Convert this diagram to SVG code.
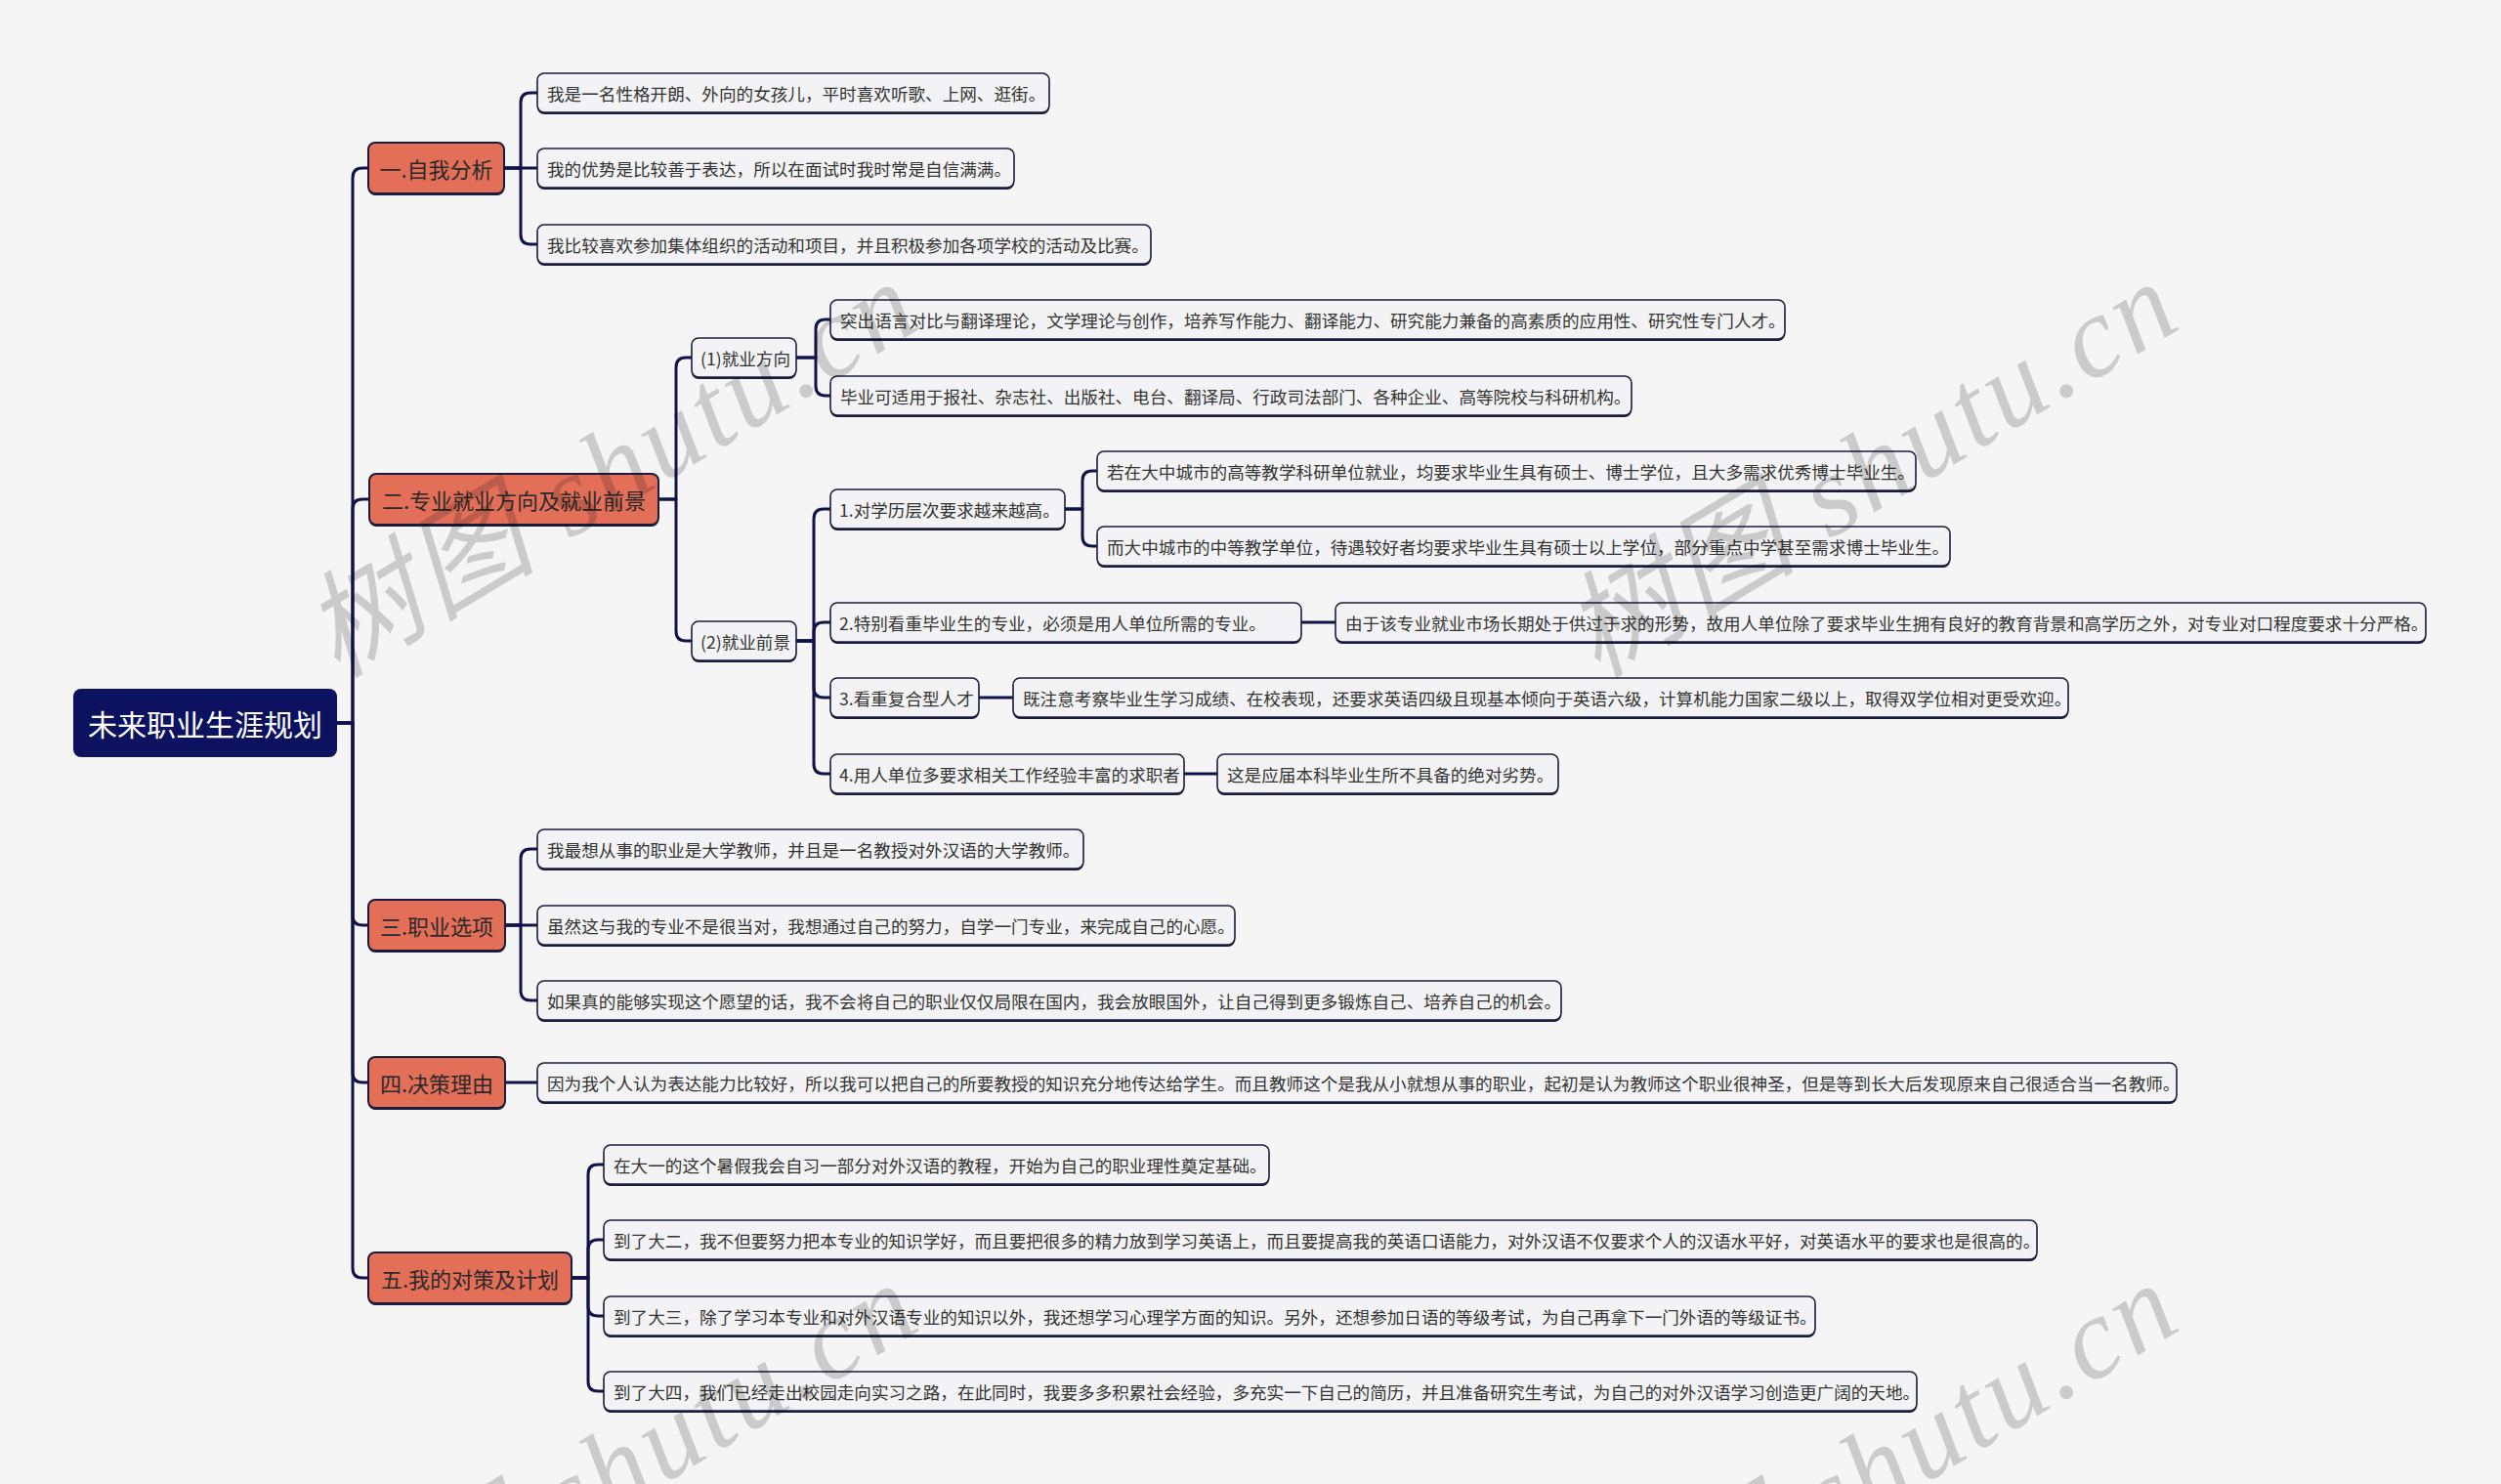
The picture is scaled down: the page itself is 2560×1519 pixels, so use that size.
<svg xmlns="http://www.w3.org/2000/svg" width="2560" height="1519" viewBox="0 0 2560 1519">
<style>
.bg{fill:#f5f5f5}
.rootbox{fill:#0c1160}
.roottxt{fill:#ffffff;font-family:"Noto Sans CJK SC","Noto Sans",sans-serif;font-size:30px;text-anchor:middle;dominant-baseline:central}
.l1 rect.b{fill:#e46f59;stroke:#1b1c3c;stroke-width:2}
.sh{fill:#1b1c3c}
.l1 text{fill:#2a2a2a;font-family:"Noto Sans CJK SC","Noto Sans",sans-serif;font-size:22px;text-anchor:middle;dominant-baseline:central}
.lf rect.b{fill:#f3f3f5;stroke:#1b1c3c;stroke-width:1.6}
.lf text{fill:#333333;font-family:"Noto Sans CJK SC","Noto Sans",sans-serif;font-size:17.6px;dominant-baseline:central}
.cn path{fill:none;stroke:#10134a;stroke-width:3;stroke-linecap:round;stroke-linejoin:round}
.wm{fill:#000000;fill-opacity:0.17;font-family:"Liberation Serif","Noto Sans CJK SC",serif;font-style:italic;font-size:118px}
</style>
<rect class="bg" x="0" y="0" width="2560" height="1519"/>

<g id="connectors" class="cn">
<path d="M345,740 H361 V182 Q361,172 371,172 H377"/>
<path d="M345,740 H361 V521 Q361,511 371,511 H378"/>
<path d="M345,740 H361 V937 Q361,947 371,947 H377"/>
<path d="M345,740 H361 V1098 Q361,1108 371,1108 H377"/>
<path d="M345,740 H361 V1298 Q361,1308 371,1308 H377"/>
<path d="M516,172 H533 V105 Q533,95 543,95 H550"/>
<path d="M516,172 H550"/>
<path d="M516,172 H533 V240 Q533,250 543,250 H550"/>
<path d="M674,511 H692 V376 Q692,366 702,366 H708"/>
<path d="M674,511 H692 V646 Q692,656 702,656 H708"/>
<path d="M815,366 H835 V337 Q835,327 845,327 H850"/>
<path d="M815,366 H835 V395 Q835,405 845,405 H850"/>
<path d="M815,656 H833 V531 Q833,521 843,521 H850"/>
<path d="M815,656 H833 V647 Q833,637 843,637 H850"/>
<path d="M815,656 H833 V704 Q833,714 843,714 H850"/>
<path d="M815,656 H833 V782 Q833,792 843,792 H850"/>
<path d="M1090,521 H1108 V492 Q1108,482 1118,482 H1123"/>
<path d="M1090,521 H1108 V549 Q1108,559 1118,559 H1123"/>
<path d="M1332,637 H1367"/>
<path d="M1002,714 H1037"/>
<path d="M1212,792 H1246"/>
<path d="M517,947 H533 V879 Q533,869 543,869 H550"/>
<path d="M517,947 H550"/>
<path d="M517,947 H533 V1014 Q533,1024 543,1024 H550"/>
<path d="M517,1108 H550"/>
<path d="M585,1308 H602 V1202 Q602,1192 612,1192 H618"/>
<path d="M585,1308 H602 V1279 Q602,1269 612,1269 H618"/>
<path d="M585,1308 H602 V1337 Q602,1347 612,1347 H618"/>
<path d="M585,1308 H602 V1414 Q602,1424 612,1424 H618"/>
</g>

<g id="root">
<rect class="rootbox" x="75" y="705" width="270" height="70" rx="8"/>
<text class="roottxt" x="210" y="740">未来职业生涯规划</text>
</g>

<g id="n1" class="l1"><rect class="sh" x="377" y="148" width="139" height="52" rx="7"/><rect class="b" x="377" y="146" width="139" height="52" rx="7"/><text x="446.5" y="172">一.自我分析</text></g>
<g id="n2" class="l1"><rect class="sh" x="378" y="487" width="296" height="52" rx="7"/><rect class="b" x="378" y="485" width="296" height="52" rx="7"/><text x="526" y="511">二.专业就业方向及就业前景</text></g>
<g id="n3" class="l1"><rect class="sh" x="377" y="923" width="140" height="52" rx="7"/><rect class="b" x="377" y="921" width="140" height="52" rx="7"/><text x="447" y="947">三.职业选项</text></g>
<g id="n4" class="l1"><rect class="sh" x="377" y="1084" width="140" height="52" rx="7"/><rect class="b" x="377" y="1082" width="140" height="52" rx="7"/><text x="447" y="1108">四.决策理由</text></g>
<g id="n5" class="l1"><rect class="sh" x="377" y="1284" width="208" height="52" rx="7"/><rect class="b" x="377" y="1282" width="208" height="52" rx="7"/><text x="481" y="1308">五.我的对策及计划</text></g>

<g id="a1" class="lf"><rect class="sh" x="550" y="77" width="524" height="40" rx="7"/><rect class="b" x="550" y="75" width="524" height="40" rx="7"/><text x="560" y="95">我是一名性格开朗、外向的女孩儿，平时喜欢听歌、上网、逛街。</text></g>
<g id="a2" class="lf"><rect class="sh" x="550" y="154" width="488" height="40" rx="7"/><rect class="b" x="550" y="152" width="488" height="40" rx="7"/><text x="560" y="172">我的优势是比较善于表达，所以在面试时我时常是自信满满。</text></g>
<g id="a3" class="lf"><rect class="sh" x="550" y="232" width="628" height="40" rx="7"/><rect class="b" x="550" y="230" width="628" height="40" rx="7"/><text x="560" y="250">我比较喜欢参加集体组织的活动和项目，并且积极参加各项学校的活动及比赛。</text></g>

<g id="d1" class="lf"><rect class="sh" x="708" y="348" width="107" height="40" rx="7"/><rect class="b" x="708" y="346" width="107" height="40" rx="7"/><text x="717" y="366">(1)就业方向</text></g>
<g id="d2" class="lf"><rect class="sh" x="708" y="638" width="107" height="40" rx="7"/><rect class="b" x="708" y="636" width="107" height="40" rx="7"/><text x="717" y="656">(2)就业前景</text></g>

<g id="e1" class="lf"><rect class="sh" x="850" y="309" width="977" height="40" rx="7"/><rect class="b" x="850" y="307" width="977" height="40" rx="7"/><text x="860" y="327">突出语言对比与翻译理论，文学理论与创作，培养写作能力、翻译能力、研究能力兼备的高素质的应用性、研究性专门人才。</text></g>
<g id="e2" class="lf"><rect class="sh" x="850" y="387" width="820" height="40" rx="7"/><rect class="b" x="850" y="385" width="820" height="40" rx="7"/><text x="860" y="405">毕业可适用于报社、杂志社、出版社、电台、翻译局、行政司法部门、各种企业、高等院校与科研机构。</text></g>

<g id="f1" class="lf"><rect class="sh" x="850" y="503" width="240" height="40" rx="7"/><rect class="b" x="850" y="501" width="240" height="40" rx="7"/><text x="859" y="521">1.对学历层次要求越来越高。</text></g>
<g id="f2" class="lf"><rect class="sh" x="850" y="619" width="482" height="40" rx="7"/><rect class="b" x="850" y="617" width="482" height="40" rx="7"/><text x="859" y="637">2.特别看重毕业生的专业，必须是用人单位所需的专业。</text></g>
<g id="f3" class="lf"><rect class="sh" x="850" y="696" width="152" height="40" rx="7"/><rect class="b" x="850" y="694" width="152" height="40" rx="7"/><text x="859" y="714">3.看重复合型人才</text></g>
<g id="f4" class="lf"><rect class="sh" x="850" y="774" width="362" height="40" rx="7"/><rect class="b" x="850" y="772" width="362" height="40" rx="7"/><text x="859" y="792">4.用人单位多要求相关工作经验丰富的求职者</text></g>

<g id="g1" class="lf"><rect class="sh" x="1123" y="464" width="838" height="40" rx="7"/><rect class="b" x="1123" y="462" width="838" height="40" rx="7"/><text x="1133" y="482">若在大中城市的高等教学科研单位就业，均要求毕业生具有硕士、博士学位，且大多需求优秀博士毕业生。</text></g>
<g id="g2" class="lf"><rect class="sh" x="1123" y="541" width="873" height="40" rx="7"/><rect class="b" x="1123" y="539" width="873" height="40" rx="7"/><text x="1133" y="559">而大中城市的中等教学单位，待遇较好者均要求毕业生具有硕士以上学位，部分重点中学甚至需求博士毕业生。</text></g>
<g id="f2c" class="lf"><rect class="sh" x="1367" y="619" width="1116" height="40" rx="7"/><rect class="b" x="1367" y="617" width="1116" height="40" rx="7"/><text x="1377" y="637">由于该专业就业市场长期处于供过于求的形势，故用人单位除了要求毕业生拥有良好的教育背景和高学历之外，对专业对口程度要求十分严格。</text></g>
<g id="f3c" class="lf"><rect class="sh" x="1037" y="696" width="1080" height="40" rx="7"/><rect class="b" x="1037" y="694" width="1080" height="40" rx="7"/><text x="1047" y="714">既注意考察毕业生学习成绩、在校表现，还要求英语四级且现基本倾向于英语六级，计算机能力国家二级以上，取得双学位相对更受欢迎。</text></g>
<g id="f4c" class="lf"><rect class="sh" x="1246" y="774" width="349" height="40" rx="7"/><rect class="b" x="1246" y="772" width="349" height="40" rx="7"/><text x="1256" y="792">这是应届本科毕业生所不具备的绝对劣势。</text></g>

<g id="h1" class="lf"><rect class="sh" x="550" y="851" width="559" height="40" rx="7"/><rect class="b" x="550" y="849" width="559" height="40" rx="7"/><text x="560" y="869">我最想从事的职业是大学教师，并且是一名教授对外汉语的大学教师。</text></g>
<g id="h2" class="lf"><rect class="sh" x="550" y="929" width="714" height="40" rx="7"/><rect class="b" x="550" y="927" width="714" height="40" rx="7"/><text x="560" y="947">虽然这与我的专业不是很当对，我想通过自己的努力，自学一门专业，来完成自己的心愿。</text></g>
<g id="h3" class="lf"><rect class="sh" x="550" y="1006" width="1048" height="40" rx="7"/><rect class="b" x="550" y="1004" width="1048" height="40" rx="7"/><text x="560" y="1024">如果真的能够实现这个愿望的话，我不会将自己的职业仅仅局限在国内，我会放眼国外，让自己得到更多锻炼自己、培养自己的机会。</text></g>

<g id="k1" class="lf"><rect class="sh" x="550" y="1090" width="1678" height="40" rx="7"/><rect class="b" x="550" y="1088" width="1678" height="40" rx="7"/><text x="560" y="1108">因为我个人认为表达能力比较好，所以我可以把自己的所要教授的知识充分地传达给学生。而且教师这个是我从小就想从事的职业，起初是认为教师这个职业很神圣，但是等到长大后发现原来自己很适合当一名教师。</text></g>

<g id="i1" class="lf"><rect class="sh" x="618" y="1174" width="681" height="40" rx="7"/><rect class="b" x="618" y="1172" width="681" height="40" rx="7"/><text x="628" y="1192">在大一的这个暑假我会自习一部分对外汉语的教程，开始为自己的职业理性奠定基础。</text></g>
<g id="i2" class="lf"><rect class="sh" x="618" y="1251" width="1467" height="40" rx="7"/><rect class="b" x="618" y="1249" width="1467" height="40" rx="7"/><text x="628" y="1269">到了大二，我不但要努力把本专业的知识学好，而且要把很多的精力放到学习英语上，而且要提高我的英语口语能力，对外汉语不仅要求个人的汉语水平好，对英语水平的要求也是很高的。</text></g>
<g id="i3" class="lf"><rect class="sh" x="618" y="1329" width="1240" height="40" rx="7"/><rect class="b" x="618" y="1327" width="1240" height="40" rx="7"/><text x="628" y="1347">到了大三，除了学习本专业和对外汉语专业的知识以外，我还想学习心理学方面的知识。另外，还想参加日语的等级考试，为自己再拿下一门外语的等级证书。</text></g>
<g id="i4" class="lf"><rect class="sh" x="618" y="1406" width="1344" height="40" rx="7"/><rect class="b" x="618" y="1404" width="1344" height="40" rx="7"/><text x="628" y="1424">到了大四，我们已经走出校园走向实习之路，在此同时，我要多多积累社会经验，多充实一下自己的简历，并且准备研究生考试，为自己的对外汉语学习创造更广阔的天地。</text></g>

<g id="watermarks">
<text class="wm" transform="translate(345,695) rotate(-31)" textLength="700" lengthAdjust="spacing">树图 shutu.cn</text>
<text class="wm" transform="translate(1635,695) rotate(-31)" textLength="700" lengthAdjust="spacing">树图 shutu.cn</text>
<text class="wm" transform="translate(345,1720) rotate(-31)" textLength="700" lengthAdjust="spacing">树图 shutu.cn</text>
<text class="wm" transform="translate(1635,1720) rotate(-31)" textLength="700" lengthAdjust="spacing">树图 shutu.cn</text>
</g>
</svg>
